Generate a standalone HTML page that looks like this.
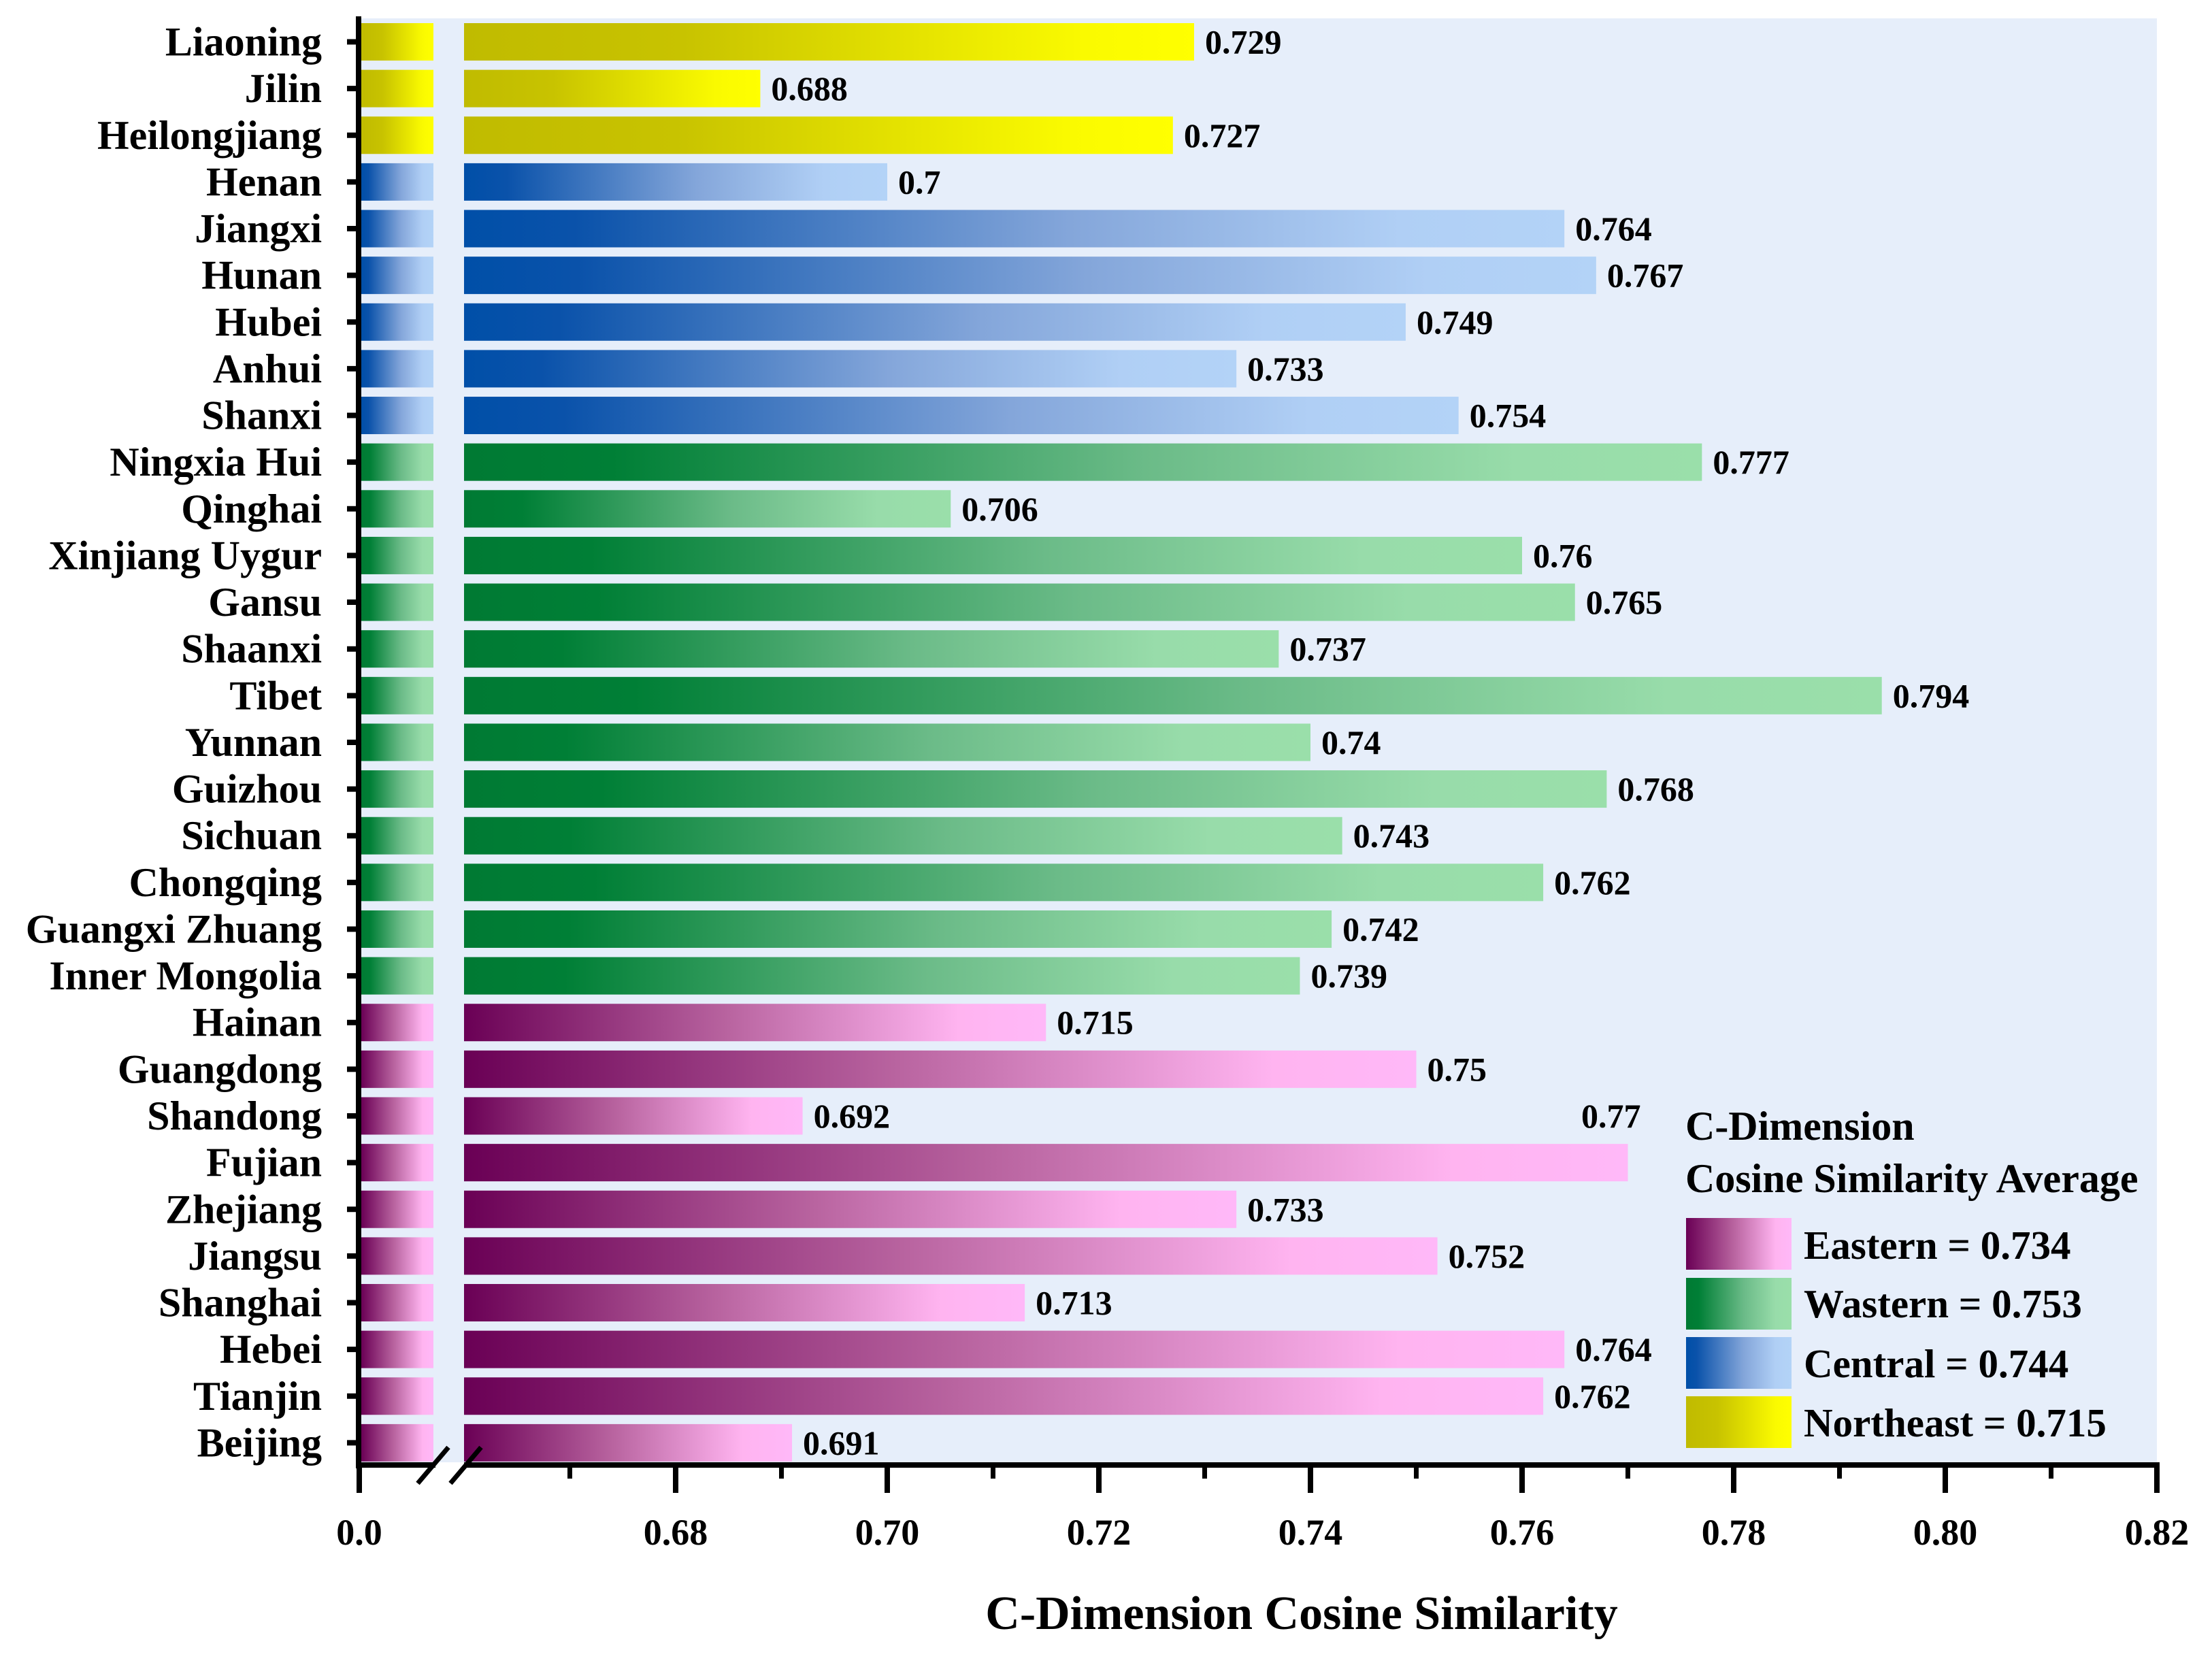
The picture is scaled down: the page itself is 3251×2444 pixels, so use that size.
<!DOCTYPE html>
<html><head><meta charset="utf-8"><style>
html,body{margin:0;padding:0;background:#fff;}
svg{display:block;font-family:"Liberation Serif",serif;font-weight:bold;}
</style></head><body>
<svg id="chart" width="3251" height="2444" viewBox="0 0 3251 2444" xmlns="http://www.w3.org/2000/svg">
<defs>
<linearGradient id="g-e" x1="0" x2="1" y1="0" y2="0"><stop offset="0" stop-color="#6a0055"/><stop offset="0.45" stop-color="#b8639f"/><stop offset="0.85" stop-color="#ffb4f0"/><stop offset="1" stop-color="#ffb8f8"/></linearGradient>
<linearGradient id="g-w" x1="0" x2="1" y1="0" y2="0"><stop offset="0" stop-color="#007a33"/><stop offset="0.12" stop-color="#007f36"/><stop offset="0.55" stop-color="#6bbb88"/><stop offset="0.85" stop-color="#98dcaa"/><stop offset="1" stop-color="#9adfaa"/></linearGradient>
<linearGradient id="g-c" x1="0" x2="1" y1="0" y2="0"><stop offset="0" stop-color="#004fa8"/><stop offset="0.1" stop-color="#0a52aa"/><stop offset="0.55" stop-color="#84a6da"/><stop offset="0.85" stop-color="#b0cff5"/><stop offset="1" stop-color="#b3d3f7"/></linearGradient>
<linearGradient id="g-n" x1="0" x2="1" y1="0" y2="0"><stop offset="0" stop-color="#c0bb00"/><stop offset="0.3" stop-color="#c8c300"/><stop offset="0.85" stop-color="#fafa00"/><stop offset="1" stop-color="#ffff00"/></linearGradient>
</defs>
<rect x="531" y="27" width="2639" height="2123" fill="#e6eefa"/>
<g id="bars"></g>
<g id="axes"></g>
<text x="1913" y="2394" font-size="70" text-anchor="middle">C-Dimension Cosine Similarity</text>
<g>
<text x="2477" y="1675" font-size="60">C-Dimension</text>
<text x="2477" y="1752" font-size="60">Cosine Similarity Average</text>
<rect x="2478" y="1790" width="155" height="76" fill="url(#g-e)"/>
<text x="2651" y="1850" font-size="59">Eastern = 0.734</text>
<rect x="2478" y="1878" width="155" height="76" fill="url(#g-w)"/>
<text x="2651" y="1936" font-size="59">Wastern = 0.753</text>
<rect x="2478" y="1965" width="155" height="76" fill="url(#g-c)"/>
<text x="2651" y="2024" font-size="59">Central = 0.744</text>
<rect x="2478" y="2052" width="155" height="76" fill="url(#g-n)"/>
<text x="2651" y="2111" font-size="59">Northeast = 0.715</text>
</g>
</svg>
<script>
const provinces = ["Liaoning","Jilin","Heilongjiang","Henan","Jiangxi","Hunan","Hubei","Anhui","Shanxi","Ningxia Hui","Qinghai","Xinjiang Uygur","Gansu","Shaanxi","Tibet","Yunnan","Guizhou","Sichuan","Chongqing","Guangxi Zhuang","Inner Mongolia","Hainan","Guangdong","Shandong","Fujian","Zhejiang","Jiangsu","Shanghai","Hebei","Tianjin","Beijing"];
const values = [0.729,0.688,0.727,0.7,0.764,0.767,0.749,0.733,0.754,0.777,0.706,0.76,0.765,0.737,0.794,0.74,0.768,0.743,0.762,0.742,0.739,0.715,0.75,0.692,0.77,0.733,0.752,0.713,0.764,0.762,0.691];
const regions = ["n","n","n","c","c","c","c","c","c","w","w","w","w","w","w","w","w","w","w","w","w","e","e","e","e","e","e","e","e","e","e"];
const majorTicks = [0.68,0.70,0.72,0.74,0.76,0.78,0.80,0.82];
const minorTicks = [0.67,0.69,0.71,0.73,0.75,0.77,0.79,0.81];
const axisMin = 0.66;

const NS = "http://www.w3.org/2000/svg";
function x(v){ return 993 + (v - 0.68) * 15550; }
function y(i){ return 34 + i * 68.63; }
const barH = 55;
function mk(tag, attrs, parent){ const e=document.createElementNS(NS,tag); for(const k in attrs) e.setAttribute(k,attrs[k]); parent.appendChild(e); return e; }
const bars = document.getElementById('bars');
const axes = document.getElementById('axes');
provinces.forEach((p,i)=>{
  const yy = y(i);
  const s = mk('rect',{x:531,y:yy,width:106,height:barH,fill:'url(#g-'+regions[i]+')'},bars);
  
  
  const x0 = x(axisMin);
  const b = mk('rect',{x:x0,y:yy,width:x(values[i])-x0,height:barH,fill:'url(#g-'+regions[i]+')'},bars);
  
  
  let lbl;
  if (p === "Fujian") {
    lbl = mk('text',{x:x(values[i])+19,y:yy-24,'font-size':50,'text-anchor':'end'},bars);
  } else {
    lbl = mk('text',{x:x(values[i])+16,y:yy+barH/2+17,'font-size':50},bars);
  }
  lbl.textContent = String(values[i]);
  
  
  const c = mk('text',{x:473,y:yy+barH/2+20,'font-size':60,'text-anchor':'end'},axes);
  c.textContent = p;
  
  
  const t = mk('line',{x1:510,x2:531,y1:yy+barH/2,y2:yy+barH/2,stroke:'#000','stroke-width':8},axes);
  
  
});
let ya = mk('line',{x1:527,x2:527,y1:24,y2:2158,stroke:'#000','stroke-width':8},axes);


let xa = mk('line',{x1:523,x2:3174,y1:2153,y2:2153,stroke:'#000','stroke-width':8},axes);


let gap = mk('rect',{x:640,y:2120,width:42,height:45,fill:'#fff'},axes);


let gb = mk('rect',{x:640,y:2120,width:42,height:29,fill:'#e6eefa'},axes);


[[614,2180,659,2127],[662,2180,707,2127]].forEach(d=>{
  const l = mk('line',{x1:d[0],y1:d[1],x2:d[2],y2:d[3],stroke:'#000','stroke-width':7},axes);
  
  
});
let t0 = mk('line',{x1:528,x2:528,y1:2150,y2:2194,stroke:'#000','stroke-width':8},axes);


let l0 = mk('text',{x:528,y:2270,'font-size':54,'text-anchor':'middle'},axes);
l0.textContent='0.0';


majorTicks.forEach(v=>{
  const t = mk('line',{x1:x(v),x2:x(v),y1:2150,y2:2194,stroke:'#000','stroke-width':8},axes);
  
  
  const l = mk('text',{x:x(v),y:2270,'font-size':54,'text-anchor':'middle'},axes);
  l.textContent = v.toFixed(2);
  
  
});
minorTicks.forEach(v=>{
  const t = mk('line',{x1:x(v),x2:x(v),y1:2150,y2:2173,stroke:'#000','stroke-width':7},axes);
  
  
});
</script>
</body></html>
